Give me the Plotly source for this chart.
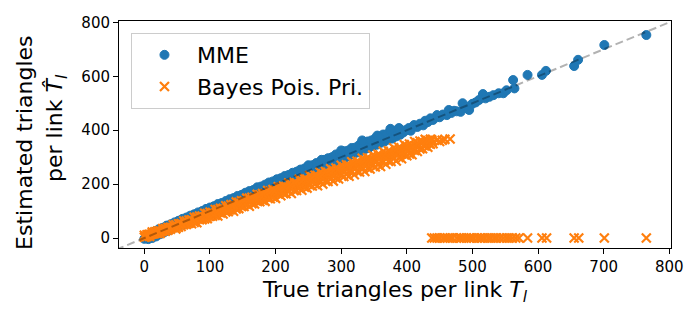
import plotly.graph_objects as go

# ---- data ----
# MME estimates (blue circles): true triangles vs estimated triangles
mme_true = [
    0, 6, 12, 18, 24, 30, 36, 42, 48, 54, 60, 66, 72, 78, 84, 90, 96, 102, 108, 114,
    120, 126, 132, 138, 144, 150, 156, 162, 168, 174, 180, 186, 192, 198, 204, 210,
    216, 222, 228, 234, 240, 246, 252, 258, 264, 270, 276, 282, 288, 294, 300, 306,
    312, 318, 324, 330, 336, 342, 348, 354, 360, 366, 372, 378, 384, 390,
    4, 10, 16, 22, 28, 34, 40, 46, 52, 58, 64, 70, 76, 82, 88, 94, 100, 106, 112, 118,
    124, 130, 136, 142, 148, 154, 160, 166, 172, 178, 184, 190, 196, 202, 208, 214,
    220, 226, 232, 238, 244, 250, 256, 262, 268, 274, 280, 286, 292, 298, 304, 310,
    316, 322, 328, 334, 340, 346, 352, 358, 364, 370, 376, 382, 388,
    250, 270, 300, 332, 355, 375,
    395, 398, 403, 406, 411, 416, 420, 425, 428, 432, 436, 440, 446, 450, 455, 461,
    464, 468, 472, 476, 482, 485, 490, 495, 500, 505, 510, 516, 520, 526, 532, 540,
    547, 552, 562, 564, 584, 606, 612, 655, 661, 701, 765,
]
mme_est = [
    -3, -4, 0, 6, 14, 21, 27, 34, 40, 46, 52, 58, 64, 70, 77, 82, 89, 94, 101, 106,
    113, 118, 125, 130, 137, 142, 149, 154, 161, 166, 173, 178, 185, 190, 197, 202,
    209, 214, 221, 226, 233, 238, 245, 250, 257, 262, 269, 274, 281, 286, 293, 298,
    305, 310, 317, 322, 329, 334, 341, 346, 353, 358, 365, 369, 377, 383,
    10, 18, 25, 33, 38, 46, 51, 58, 64, 71, 76, 83, 88, 95, 100, 108, 113, 118, 126, 130,
    137, 144, 148, 156, 160, 168, 174, 178, 188, 191, 198, 206, 210, 218, 222, 230,
    234, 242, 246, 254, 258, 266, 270, 278, 282, 290, 296, 300, 310, 312, 322, 324,
    334, 336, 346, 350, 358, 362, 370, 374, 384, 386, 396, 398, 408,
    270, 290, 325, 362, 380, 405,
    392, 400, 408, 398, 419, 412, 424, 418, 435, 430, 444, 438, 456, 448, 458, 456,
    475, 464, 472, 470, 468, 500, 488, 475, 498, 503, 512, 534, 518, 524, 530, 537,
    537, 548, 586, 555, 605, 605, 620, 638, 661, 716, 753,
]

# Bayes Poisson prior estimates (orange crosses), read band by band
bayes_a_true = [0, 8, 16, 24, 32, 40, 48, 56, 64, 72, 80, 88, 96, 104, 112, 120, 128, 136,
                144, 152, 160, 168, 176, 184, 192, 200, 208, 216, 224, 232, 240, 248, 256,
                264, 272, 280, 288, 296, 304, 312, 320, 328, 336, 344, 352, 360, 368, 376,
                384, 392, 400, 408, 416, 424, 432, 440]
bayes_a_est = [3, 6, 17, 17, 25, 33, 34, 43, 50, 53, 57, 68, 72, 81, 82, 89, 98, 99,
               109, 117, 118, 126, 135, 136, 146, 147, 157, 164, 165, 176, 177, 185, 193,
               194, 200, 210, 211, 219, 228, 229, 235, 245, 247, 256, 264, 265, 274, 284,
               286, 294, 305, 309, 321, 331, 337, 350]

bayes_b_true = [4, 12, 20, 28, 36, 44, 52, 60, 68, 76, 84, 92, 100, 108, 116, 124, 132,
                140, 148, 156, 164, 172, 180, 188, 196, 204, 212, 220, 228, 236, 244, 252,
                260, 268, 276, 284, 292, 300, 308, 316, 324, 332, 340, 348, 356, 364, 372,
                380, 388, 396, 404, 412, 420, 428, 436]
bayes_b_est = [6, 15, 17, 26, 29, 38, 40, 49, 55, 58, 68, 71, 81, 84, 93, 97, 106,
               108, 117, 125, 127, 137, 140, 149, 152, 163, 165, 174, 176, 186, 188, 198,
               200, 210, 212, 221, 223, 234, 236, 246, 248, 258, 260, 270, 272, 283, 285,
               296, 299, 310, 312, 325, 330, 341, 348]

bayes_c_true = [2, 10, 18, 26, 34, 42, 50, 58, 66, 74, 82, 90, 98, 106, 114, 122, 130,
                138, 146, 154, 162, 170, 178, 186, 194, 202, 210, 218, 226, 234, 242, 250,
                258, 266, 274, 282, 290, 298, 306, 314, 322, 330, 338, 346, 354, 362, 370,
                378, 386, 394, 402, 410, 418, 426, 434]
bayes_c_est = [5, 13, 20, 24, 32, 39, 41, 50, 55, 64, 71, 73, 81, 87, 96, 103, 105,
               114, 121, 126, 135, 138, 148, 155, 157, 167, 174, 176, 185, 191, 193, 202,
               211, 213, 221, 228, 230, 239, 247, 249, 258, 265, 267, 276, 283, 286, 296,
               304, 307, 317, 322, 327, 339, 343, 350]

bayes_d_true = [6, 14, 22, 30, 38, 46, 54, 62, 70, 78, 86, 94, 102, 110, 118, 126, 134,
                142, 150, 158, 166, 174, 182, 190, 198, 206, 214, 222, 230, 238, 246, 254,
                262, 270, 278, 286, 294, 302, 310, 318, 326, 334, 342, 350, 358, 366, 374,
                382, 390, 398, 406, 414, 422, 430, 438]
bayes_d_est = [12, 16, 25, 30, 37, 41, 52, 56, 65, 68, 76, 80, 92, 96, 105, 108, 116,
               120, 132, 136, 145, 148, 157, 161, 169, 176, 184, 188, 196, 199, 208, 214,
               222, 225, 234, 237, 245, 251, 260, 263, 271, 275, 284, 287, 296, 300, 309,
               314, 323, 328, 335, 341, 352, 351, 364]

bayes_e_true = [0, 8, 16, 24, 32, 40, 48, 56, 64, 72, 80, 88, 96, 104, 112, 120, 128, 136,
                144, 152, 160, 168, 176, 184, 192, 200, 208, 216, 224, 232, 240, 248, 256,
                264, 272, 280, 288, 296, 304, 312, 320, 328, 336, 344, 352, 360, 368, 376,
                384, 392, 400, 408, 416, 424, 432]
bayes_e_est = [10, 14, 23, 26, 35, 40, 49, 54, 63, 68, 78, 82, 91, 95, 106, 110, 119, 124,
               133, 138, 148, 151, 160, 165, 174, 178, 188, 191, 199, 204, 213, 217, 226,
               229, 238, 242, 251, 254, 264, 267, 276, 279, 289, 292, 301, 304, 313, 317,
               327, 330, 341, 343, 353, 356, 362]

bayes_f_true = [4, 12, 20, 28, 36, 44, 52, 60, 68, 76, 84, 92, 100, 108, 116, 124, 132,
                140, 148, 156, 164, 172, 180, 188, 196, 204, 212, 220, 228, 236, 244, 252,
                260, 268, 276, 284, 292, 300, 308, 316, 324, 332, 340, 348, 356, 364, 372,
                380, 388, 396, 404, 412, 420, 428, 436]
bayes_f_est = [12, 22, 26, 35, 39, 49, 53, 63, 67, 77, 82, 92, 96, 106, 110, 120, 124,
               134, 138, 148, 151, 162, 165, 176, 180, 190, 193, 204, 207, 218, 221, 232,
               234, 244, 247, 257, 260, 270, 272, 283, 285, 296, 298, 308, 311, 322, 324,
               335, 337, 347, 349, 358, 360, 366, 366]

# sparse points at the end of the band
bayes_end_true = [430, 436, 446, 450, 454, 458, 466]
bayes_end_est = [362, 365, 363, 358, 363, 366, 367]

# links whose estimate collapsed to zero
bayes_zero_true = [438, 442, 446, 450, 455, 458, 462, 466, 470, 476, 480, 483, 487, 491,
                   495, 498, 502, 507, 511, 515, 519, 524, 528, 533, 537, 542, 547, 552,
                   556, 561, 566, 571, 584, 606, 613, 655, 662, 701, 765]
bayes_zero_est = [0] * len(bayes_zero_true)

bayes_true = (bayes_a_true + bayes_b_true + bayes_c_true + bayes_d_true + bayes_e_true
              + bayes_f_true + bayes_end_true + bayes_zero_true)
bayes_est = (bayes_a_est + bayes_b_est + bayes_c_est + bayes_d_est + bayes_e_est
             + bayes_f_est + bayes_end_est + bayes_zero_est)

# reference diagonal (estimate == truth)
diag_vals = [-60, 860]

x_ticks = [0, 100, 200, 300, 400, 500, 600, 700, 800]
y_ticks = [0, 200, 400, 600, 800]

FONT = "DejaVu Sans"

fig = go.Figure()
fig.add_trace(go.Scatter(
    x=mme_true, y=mme_est, mode="markers", name="MME",
    marker=dict(symbol="circle", size=9, color="#1f77b4",
                line=dict(width=1, color="#1f77b4")),
))
fig.add_trace(go.Scatter(
    x=bayes_true, y=bayes_est, mode="markers", name="Bayes Pois. Pri.",
    marker=dict(symbol="x-thin", size=9, color="#ff7f0e",
                line=dict(width=2.2, color="#ff7f0e")),
))
fig.add_trace(go.Scatter(
    x=diag_vals, y=diag_vals, mode="lines", showlegend=False, hoverinfo="skip",
    line=dict(color="rgba(0,0,0,0.3)", width=2, dash="8px,4px"),
))

axis_common = dict(
    showgrid=False, zeroline=False, showline=True, mirror=True,
    linecolor="black", linewidth=1, ticks="outside", ticklen=5, tickwidth=1,
    tickcolor="black", tickfont=dict(family=FONT, size=15, color="black"),
    automargin=False,
)

# y-axis title, two centred lines (placed as annotations for exact position)
ylabel_lines = ["Estimated triangles", "per link <i>T\u0302</i><sub><i>l</i></sub>"]

# the page body has an 8px margin, so the figure is sized to fit the window
fig.update_layout(
    width=692, height=312,
    margin=dict(l=111, r=29, t=13, b=72),
    plot_bgcolor="white", paper_bgcolor="white",
    font=dict(family=FONT, color="black"),
    xaxis=dict(range=[-38.6, 802.6], tickvals=x_ticks, **axis_common,
               title=dict(text="True triangles per link <i>T</i><sub><i>l</i></sub>",
                          font=dict(family=FONT, size=22), standoff=6)),
    yaxis=dict(range=[-37, 805], tickvals=y_ticks, **axis_common),
    legend=dict(x=0.0217, y=0.947, xanchor="left", yanchor="top",
                bgcolor="rgba(255,255,255,0.8)", bordercolor="#cccccc", borderwidth=1,
                font=dict(family=FONT, size=22), itemwidth=55),
    showlegend=True,
    annotations=[
        dict(text=ylabel_lines[0], xref="paper", yref="paper", x=0, y=0.463,
             xanchor="center", yanchor="middle", xshift=-94, textangle=-90,
             showarrow=False, font=dict(family=FONT, size=22, color="black")),
        dict(text=ylabel_lines[1], xref="paper", yref="paper", x=0, y=0.529,
             xanchor="center", yanchor="middle", xshift=-62, textangle=-90,
             showarrow=False, font=dict(family=FONT, size=22, color="black")),
    ],
)

fig.write_html("out.html")
